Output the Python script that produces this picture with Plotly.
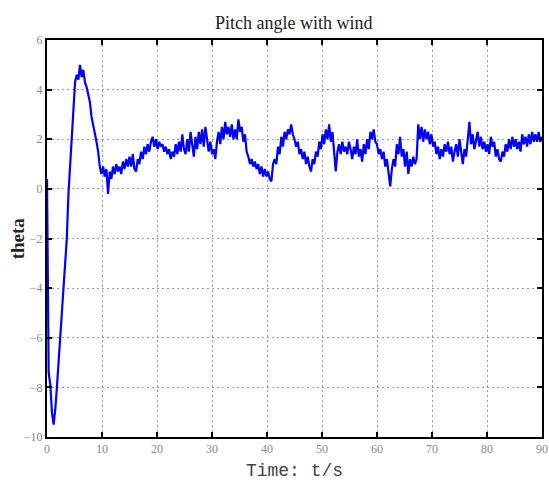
import plotly.graph_objects as go

time_s = [
    0.0, 0.3, 0.6, 0.9, 1.2, 1.5, 1.8, 2.1, 2.4, 2.7,
    3.0, 3.3, 3.6, 3.9, 4.2, 4.5, 4.8, 5.1, 5.4, 5.7,
    6.0, 6.3, 6.6, 6.9, 7.2, 7.5, 7.8, 8.1, 8.4, 8.7,
    9.0, 9.3, 9.6, 9.9, 10.2, 10.5, 10.8, 11.1, 11.4, 11.7,
    12.0, 12.3, 12.6, 12.9, 13.2, 13.5, 13.8, 14.1, 14.4, 14.7,
    15.0, 15.3, 15.6, 15.9, 16.2, 16.5, 16.8, 17.1, 17.4, 17.7,
    18.0, 18.3, 18.6, 18.9, 19.2, 19.5, 19.8, 20.1, 20.4, 20.7,
    21.0, 21.3, 21.6, 21.9, 22.2, 22.5, 22.8, 23.1, 23.4, 23.7,
    24.0, 24.3, 24.6, 24.9, 25.2, 25.5, 25.8, 26.1, 26.4, 26.7,
    27.0, 27.3, 27.6, 27.9, 28.2, 28.5, 28.8, 29.1, 29.4, 29.7,
    30.0, 30.3, 30.6, 30.9, 31.2, 31.5, 31.8, 32.1, 32.4, 32.7,
    33.0, 33.3, 33.6, 33.9, 34.2, 34.5, 34.8, 35.1, 35.4, 35.7,
    36.0, 36.3, 36.6, 36.9, 37.2, 37.5, 37.8, 38.1, 38.4, 38.7,
    39.0, 39.3, 39.6, 39.9, 40.2, 40.5, 40.8, 41.1, 41.4, 41.7,
    42.0, 42.3, 42.6, 42.9, 43.2, 43.5, 43.8, 44.1, 44.4, 44.7,
    45.0, 45.3, 45.6, 45.9, 46.2, 46.5, 46.8, 47.1, 47.4, 47.7,
    48.0, 48.3, 48.6, 48.9, 49.2, 49.5, 49.8, 50.1, 50.4, 50.7,
    51.0, 51.3, 51.6, 51.9, 52.2, 52.5, 52.8, 53.1, 53.4, 53.7,
    54.0, 54.3, 54.6, 54.9, 55.2, 55.5, 55.8, 56.1, 56.4, 56.7,
    57.0, 57.3, 57.6, 57.9, 58.2, 58.5, 58.8, 59.1, 59.4, 59.7,
    60.0, 60.3, 60.6, 60.9, 61.2, 61.5, 61.8, 62.1, 62.4, 62.7,
    63.0, 63.3, 63.6, 63.9, 64.2, 64.5, 64.8, 65.1, 65.4, 65.7,
    66.0, 66.3, 66.6, 66.9, 67.2, 67.5, 67.8, 68.1, 68.4, 68.7,
    69.0, 69.3, 69.6, 69.9, 70.2, 70.5, 70.8, 71.1, 71.4, 71.7,
    72.0, 72.3, 72.6, 72.9, 73.2, 73.5, 73.8, 74.1, 74.4, 74.7,
    75.0, 75.3, 75.6, 75.9, 76.2, 76.5, 76.8, 77.1, 77.4, 77.7,
    78.0, 78.3, 78.6, 78.9, 79.2, 79.5, 79.8, 80.1, 80.4, 80.7,
    81.0, 81.3, 81.6, 81.9, 82.2, 82.5, 82.8, 83.1, 83.4, 83.7,
    84.0, 84.3, 84.6, 84.9, 85.2, 85.5, 85.8, 86.1, 86.4, 86.7,
    87.0, 87.3, 87.6, 87.9, 88.2, 88.5, 88.8, 89.1, 89.4, 89.7,
    90.0,
]

theta = [
    0.4, -7.4, -7.9, -9.0, -9.5, -8.9, -8.0, -7.0, -6.0, -5.0,
    -4.0, -3.0, -2.0, -0.2, 0.9, 1.8, 3.2, 4.3, 4.6, 4.4,
    5.0, 4.5, 4.8, 4.3, 4.1, 3.8, 3.5, 2.9, 2.6, 2.2,
    1.9, 1.5, 0.9, 0.6, 0.9, 0.5, 0.8, -0.2, 0.7, 0.4,
    0.9, 0.6, 1.0, 0.7, 0.9, 0.6, 1.1, 0.8, 1.2, 0.9,
    1.3, 0.9, 1.4, 0.8, 0.7, 1.2, 1.0, 1.5, 1.2, 1.7,
    1.4, 1.8, 1.5, 1.9, 2.1, 1.7, 2.0, 1.6, 1.9, 1.7,
    1.8, 1.5, 1.7, 1.4, 1.6, 1.2, 1.5, 1.3, 1.8, 1.4,
    1.9, 1.5, 2.2, 1.6, 1.4, 2.0, 1.5, 2.3, 1.7, 1.3,
    2.1, 1.6, 2.3, 1.8, 2.4, 1.7, 2.5, 1.9, 1.5, 1.9,
    1.4, 1.6, 1.2, 1.9, 2.3, 1.8, 2.5, 2.0, 2.7, 2.2,
    2.5, 2.1, 2.6, 2.0, 2.4, 2.0, 2.8, 2.3, 2.5, 1.9,
    2.2, 1.5, 1.3, 1.0, 1.2, 0.9, 1.1, 0.8, 1.0, 0.6,
    0.9, 0.5, 0.8, 0.5, 0.7, 0.4, 0.3, 1.0, 1.2, 1.0,
    1.7, 1.4, 2.1, 1.7, 2.3, 2.0, 2.4, 2.2, 2.6, 2.2,
    2.0, 1.7, 1.9, 1.4, 1.6, 1.2, 1.5, 1.0, 1.3, 0.9,
    0.7, 1.2, 1.0, 1.5, 1.3, 1.9, 1.6, 2.2, 1.8, 2.4,
    2.0, 2.6, 1.9, 2.3, 1.4, 0.7, 1.5, 1.8, 1.4, 1.9,
    1.5, 1.7, 1.4, 1.9, 1.6, 1.2, 1.7, 1.4, 2.0, 1.3,
    1.6, 1.1, 1.8, 1.4, 2.0, 1.6, 2.3, 2.0, 2.4, 1.9,
    1.8, 1.4, 1.6, 1.2, 1.5, 0.9, 1.2, 0.6, 0.1, 0.8,
    1.2, 0.9, 1.8, 1.4, 2.1, 1.3, 1.6, 0.9, 1.5, 0.6,
    1.2, 0.9, 1.3, 1.0, 1.2, 2.6, 2.0, 2.5, 1.9, 2.4,
    2.0, 2.3, 1.8, 2.2, 1.7, 1.9, 1.4, 1.7, 1.2, 1.6,
    1.3, 1.8, 1.5, 1.9, 1.4, 1.7, 1.1, 1.5, 1.8, 1.3,
    2.0, 1.5, 1.0, 1.6, 1.3, 2.0, 2.7, 1.8, 2.2, 1.6,
    1.9, 2.3, 1.7, 2.1, 1.6, 1.9, 1.5, 1.8, 1.4, 2.1,
    1.7, 1.9, 1.3, 1.6, 1.2, 1.1, 1.5, 1.3, 1.8, 1.5,
    2.0, 1.6, 2.1, 1.7, 2.0, 1.6, 1.9, 1.5, 2.2, 1.8,
    2.1, 1.7, 2.2, 1.8, 2.3, 1.9, 2.2, 1.9, 2.3, 1.9,
    2.1,
]

x_ticks = [0, 10, 20, 30, 40, 50, 60, 70, 80, 90]
y_ticks = [-10, -8, -6, -4, -2, 0, 2, 4, 6]

fig = go.Figure()
fig.add_trace(go.Scatter(
    x=time_s, y=theta, mode="lines",
    line=dict(color="#0000FF", width=2.2),
    showlegend=False,
))

axis_common = dict(
    showline=True, linecolor="black", linewidth=2, mirror="ticks",
    ticks="inside", ticklen=5, tickwidth=2, tickcolor="black",
    showgrid=True, gridcolor="#999999", griddash="2px,3px", gridwidth=1.2,
    zeroline=False, automargin=False,
    tickfont=dict(family="Liberation Serif", size=12, color="#8a8a8a"),
)

fig.update_xaxes(range=[0, 90], tickvals=x_ticks, **axis_common,
                 title=dict(text="Time: t/s", standoff=8,
                            font=dict(family="Liberation Mono", size=18, color="#444444")))
fig.update_yaxes(range=[-10, 6], tickvals=y_ticks, **axis_common)

fig.add_annotation(
    text="<b>theta</b>", textangle=-90, showarrow=False,
    xref="paper", yref="paper", x=-0.059, y=0.5, xanchor="center", yanchor="middle",
    font=dict(family="Liberation Serif", size=19, color="#222222"),
)

fig.update_layout(
    width=549, height=486,
    margin=dict(l=47, r=7, t=40, b=49),
    paper_bgcolor="white", plot_bgcolor="white",
    title=dict(text="Pitch angle with wind", x=0.535, xanchor="center", y=0.953, yanchor="middle",
               font=dict(family="Liberation Serif", size=18, color="#222222")),
)

fig.write_html("out.html")
